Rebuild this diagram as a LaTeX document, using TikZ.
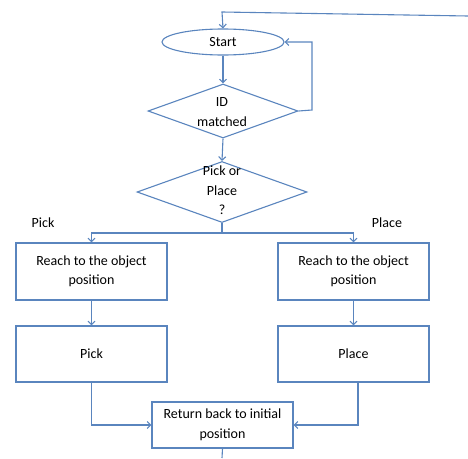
\documentclass[tikz,border=0pt]{standalone}
\usepackage{fontspec}
\setmainfont{Carlito}
\usetikzlibrary{shapes.geometric,arrows.meta}
\definecolor{ln}{HTML}{5A85BE}
\tikzset{
  base/.style={draw=ln,line width=1.1pt,inner sep=0pt,fill=white},
  boxn/.style={base,rectangle,minimum width=151pt,minimum height=57pt},
  dia/.style={base,diamond},
  txt/.style={font=\fontsize{14pt}{19.5pt}\selectfont,align=center,inner sep=0pt},
  con/.style={draw=ln,line width=1.1pt},
  arr/.style={con,-{Straight Barb[length=3.5pt,width=7pt]}}
}
\begin{document}
\begin{tikzpicture}[x=1pt,y=-1pt]
\useasboundingbox (0,0) rectangle (468,458);
% shapes
\node[base,ellipse,minimum width=122pt,minimum height=26pt] (st) at (223,42) {};
\node[txt] (stt) at (st.center) {Start};
\node[dia,minimum width=150pt,minimum height=54pt] (d1) at (223,111) {};
\node[txt] (d1t) at (222,112) {ID\\matched};
\node[dia,minimum width=170pt,minimum height=61pt] (d2) at (222,192) {};
\node[txt] (d2t) at (222,190.5) {Pick or\\Place\\?};
\node[boxn] (r1) at (91.5,271.5) {};
\node[txt] (r1t) at (r1.center) {Reach to the object\\position};
\node[boxn] (r2) at (353.5,271.5) {};
\node[txt] (r2t) at (r2.center) {Reach to the object\\position};
\node[boxn,minimum height=56pt] (pk) at (91.5,354) {};
\node[txt] (pkt) at (pk.center) {Pick};
\node[boxn,minimum height=56pt] (pl) at (353.5,354) {};
\node[txt] (plt) at (pl.center) {Place};
\node[boxn,minimum width=141pt,minimum height=46pt] (rb) at (222.5,425) {};
\node[txt] (rbt) at (rb.center) {Return back to initial\\position};
\node[txt] (lpick) at (43,223) {Pick};
\node[txt] (lplace) at (387,223) {Place};
% coordinates
\coordinate (tl) at (222,12);
\coordinate (tr) at (468,16);
\coordinate (lp) at (312,110);
\coordinate (sp) at (222,233);
\coordinate (bt) at (222,458);
% connectors
\draw[arr] (tr) -- (tl) -- (st.north);
\draw[arr] (st.south) -- (d1.north);
\draw[arr] (d1.east) -- (lp) |- (st.east);
\draw[arr] (d1.south) -- (d2.north);
\draw[con] (d2.south) -- (sp);
\draw[arr] (sp) -| (r1.north);
\draw[arr] (sp) -| (r2.north);
\draw[arr] (r1.south) -- (pk.north);
\draw[arr] (r2.south) -- (pl.north);
\draw[arr] (pk.south) |- (rb.west);
\draw[arr] ([xshift=4.5pt]pl.south) |- (rb.east);
\draw[con] (rb.south) -- (bt);
\end{tikzpicture}
\end{document}
